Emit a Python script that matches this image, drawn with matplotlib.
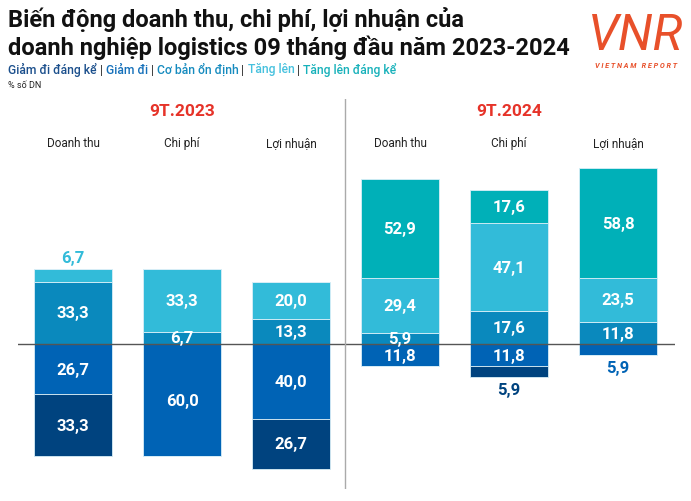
import matplotlib.pyplot as plt
from matplotlib import font_manager

# data: % of companies per category
categories = ["Doanh thu", "Chi phí", "Lợi nhuận", "Doanh thu", "Chi phí", "Lợi nhuận"]
periods = ["9T.2023", "9T.2024"]
stable = [33.3, 6.7, 13.3, 5.9, 17.6, 11.8]        # Cơ bản ổn định
increase = [6.7, 33.3, 20.0, 29.4, 47.1, 23.5]     # Tăng lên
strong_inc = [0, 0, 0, 52.9, 17.6, 58.8]           # Tăng lên đáng kể
decrease = [26.7, 60.0, 40.0, 11.8, 11.8, 5.9]     # Giảm đi
strong_dec = [33.3, 0, 26.7, 0, 5.9, 0]            # Giảm đi đáng kể

c_sdec = "#00437f"
c_dec = "#0063b5"
c_stab = "#0a89bd"
c_inc = "#32bbd9"
c_sinc = "#00b0b8"
red = "#e63329"

names = [f.name for f in font_manager.fontManager.ttflist]
num_font = "Liberation Sans Narrow" if "Liberation Sans Narrow" in names else "Roboto"

fig = plt.figure(figsize=(6.91, 5.02), dpi=100)
W, H = 691, 502
ax = fig.add_axes([18 / W, 1 - 490 / H, 657 / W, 390 / H])
ax.set_xlim(-0.505, 5.523)
ax.set_ylim(-77.5, 131)
ax.axis("off")

x = list(range(len(categories)))
bw = 0.716
ec = "#d8eef7"
ax.bar(x, stable, bw, color=c_stab, edgecolor=ec, linewidth=0.6)
ax.bar(x, increase, bw, bottom=stable, color=c_inc, edgecolor=ec, linewidth=0.6)
b2 = [s + i for s, i in zip(stable, increase)]
ax.bar(x, strong_inc, bw, bottom=b2, color=c_sinc, edgecolor=ec, linewidth=0.6)
ax.bar(x, [-d for d in decrease], bw, color=c_dec, edgecolor=ec, linewidth=0.6)
ax.bar(x, [-s for s in strong_dec], bw, bottom=[-d for d in decrease],
       color=c_sdec, edgecolor=ec, linewidth=0.6)

ax.axhline(0, color="#555555", linewidth=1)
ax.axvline(2.495, ymin=0, ymax=1, color="#aaaaaa", linewidth=1)


def fmt(v):
    return f"{v:.1f}".replace(".", ",")


lab = dict(fontsize=12, fontweight="bold", family=num_font, ha="center", va="center")
off = 6.5
for i in x:
    top = b2[i] + strong_inc[i]
    bot = -(decrease[i] + strong_dec[i])
    segs = [(0, stable[i], c_stab), (stable[i], increase[i], c_inc),
            (b2[i], strong_inc[i], c_sinc), (0, -decrease[i], c_dec),
            (-decrease[i], -strong_dec[i], c_sdec)]
    for base, v, col in segs:
        if v == 0:
            continue
        end = base + v
        if abs(v) < 7 and (end == top or end == bot):
            y = end + off if v > 0 else end - off
            ax.text(i, y, fmt(abs(v)), color=col, **lab)
        else:
            ax.text(i, base + v / 2, fmt(abs(v)), color="white", **lab)
    ax.text(i, 108, categories[i], ha="center", va="center", fontsize=8.5,
            family="Roboto", color="#222222")

ax.text(1, 124.6, periods[0], ha="center", va="center", fontsize=12.5,
        fontweight="bold", family="Roboto", color=red)
ax.text(4, 124.6, periods[1], ha="center", va="center", fontsize=12.5,
        fontweight="bold", family="Roboto", color=red)

# title
fig.text(8 / W, 1 - 20 / H, "Biến động doanh thu, chi phí, lợi nhuận của",
         fontsize=17, fontweight="bold", family="Roboto", va="center", color="#111111")
fig.text(8 / W, 1 - 48 / H, "doanh nghiệp logistics 09 tháng đầu năm 2023-2024",
         fontsize=17, fontweight="bold", family="Roboto", va="center", color="#111111")

# colour legend line
parts = [("Giảm đi đáng kể", "#1b4f8c"), (" | ", "#444444"), ("Giảm đi", "#1570ba"),
         (" | ", "#444444"), ("Cơ bản ổn định", "#168bbf"), (" | ", "#444444"),
         ("Tăng lên", "#46c1de"), (" | ", "#444444"), ("Tăng lên đáng kể", "#17b1ba")]
renderer = fig.canvas.get_renderer()
xp = 8
for txt, col in parts:
    t = fig.text(xp / W, 1 - 70 / H, txt, fontsize=8.7, family="Roboto",
                 fontweight="medium", color=col, va="center")
    xp += t.get_window_extent(renderer).width
fig.text(8 / W, 1 - 86 / H, "% số DN", fontsize=6.5, family="Roboto",
         color="#222222", va="center")

# logo
fig.text(636 / W, 1 - 36 / H, "VNR", fontsize=36, fontstyle="italic",
         family="Roboto", color="#e8502a", ha="center", va="center")
fig.text(636 / W, 1 - 66 / H, "V I E T N A M   R E P O R T", fontsize=5.2,
         fontstyle="italic", fontweight="bold", family="Roboto",
         color="#e8502a", ha="center", va="center")

fig.savefig("out.png", dpi=100)
